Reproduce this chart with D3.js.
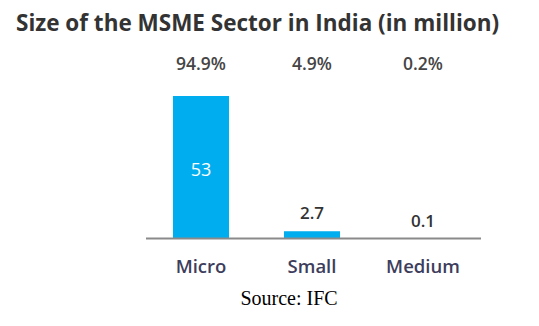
<!DOCTYPE html>
<html>
<head>
<meta charset="utf-8">
<script src="https://cdn.jsdelivr.net/npm/d3@7"></script>
<style>
  body { margin: 0; background: #fff; }
  svg { display: block; }
</style>
</head>
<body>
<svg id="chart" width="539" height="326"></svg>
<script>
// data
var categories = ["Micro", "Small", "Medium"];
var values = [53, 2.7, 0.1];
var valueLabels = ["53", "2.7", "0.1"];
var shares = ["94.9%", "4.9%", "0.2%"];

var svg = d3.select("#chart");

var baseline = 238.5;
var x = d3.scaleBand()
  .domain(categories)
  .range([146, 478])
  .paddingInner(0.495)
  .paddingOuter(0.243);

var y = d3.scaleLinear()
  .domain([0, 53])
  .range([baseline, 96]);

function cx(i) { return x(categories[i]) + x.bandwidth() / 2; }

// title
svg.append("text")
  .attr("x", 16)
  .attr("y", 31)
  .attr("font-family", "Open Sans")
  .attr("font-weight", "bold")
  .attr("font-size", 22.5)
  .attr("fill", "#333")
  .text("Size of the MSME Sector in India (in million)");

// bars
svg.selectAll(".bar")
  .data(values)
  .enter().append("rect")
  .attr("class", "bar")
  .attr("x", function(d, i) { return x(categories[i]); })
  .attr("y", function(d) { return y(d); })
  .attr("width", x.bandwidth())
  .attr("height", function(d) { return baseline - y(d); })
  .attr("fill", "#00aeef");

// baseline
svg.append("line")
  .attr("x1", 146).attr("x2", 481)
  .attr("y1", baseline).attr("y2", baseline)
  .attr("stroke", "#8a8a8a")
  .attr("stroke-width", 2);

// share labels
svg.selectAll(".share")
  .data(shares)
  .enter().append("text")
  .attr("x", function(d, i) { return cx(i); })
  .attr("y", 70)
  .attr("text-anchor", "middle")
  .attr("font-family", "Open Sans")
  .attr("font-weight", 600)
  .attr("font-size", 17.5)
  .attr("fill", "#454545")
  .text(function(d) { return d; });

// value labels: inside the tall bar, above the short ones
var labelY = [176, 219, 227];
svg.selectAll(".val")
  .data(values)
  .enter().append("text")
  .attr("x", function(d, i) { return cx(i); })
  .attr("y", function(d, i) { return labelY[i]; })
  .attr("text-anchor", "middle")
  .attr("font-family", "Open Sans")
  .attr("font-weight", function(d, i) { return i === 0 ? "normal" : 600; })
  .attr("font-size", function(d, i) { return i === 0 ? 18 : 17; })
  .attr("fill", function(d, i) { return i === 0 ? "#fff" : "#333"; })
  .text(function(d, i) { return valueLabels[i]; });

// category labels
svg.selectAll(".cat")
  .data(categories)
  .enter().append("text")
  .attr("x", function(d, i) { return cx(i); })
  .attr("y", 273)
  .attr("text-anchor", "middle")
  .attr("font-family", "Open Sans")
  .attr("font-weight", 600)
  .attr("font-size", 18.5)
  .attr("fill", "#3d3d5c")
  .text(function(d) { return d; });

// source
svg.append("text")
  .attr("x", 289)
  .attr("y", 305)
  .attr("text-anchor", "middle")
  .attr("font-family", "Liberation Serif")
  .attr("font-size", 20)
  .attr("fill", "#000")
  .text("Source: IFC");
</script>
</body>
</html>
